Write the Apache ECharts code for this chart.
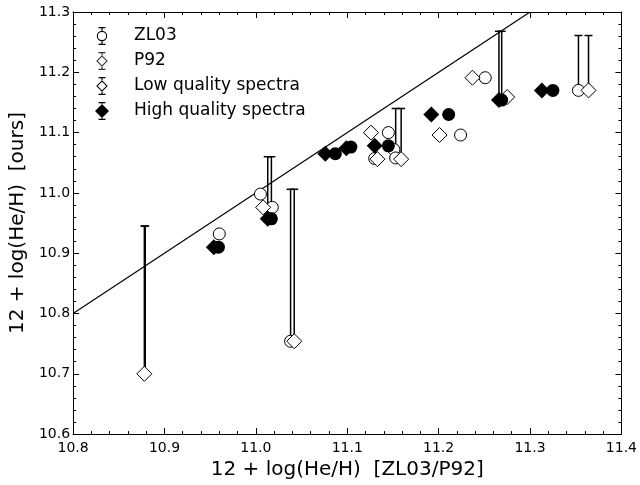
<!DOCTYPE html>
<html>
<head>
<meta charset="utf-8">
<script src="https://cdn.jsdelivr.net/npm/echarts@6/dist/echarts.min.js"></script>
<style>html,body{margin:0;padding:0;background:#fff}#c{width:640px;height:485px}</style>
</head>
<body>
<div id="c"></div>
<script>
// ---- data ----
const legendNames = ['ZL03', 'P92', 'Low quality spectra', 'High quality spectra'];
const xTicks = [10.8, 10.9, 11.0, 11.1, 11.2, 11.3, 11.4];
const yTicks = [10.6, 10.7, 10.8, 10.9, 11.0, 11.1, 11.2, 11.3];

const openCircleX = [10.960, 11.005, 11.018, 11.038, 11.145, 11.130, 11.151, 11.153, 11.224, 11.251, 11.353];
const openCircleY = [10.932, 10.998, 10.976, 10.754, 11.100, 11.057, 11.072, 11.058, 11.096, 11.191, 11.170];

const openDiamondX = [10.878, 11.008, 11.042, 11.126, 11.133, 11.159, 11.201, 11.237, 11.275, 11.364];
const openDiamondY = [10.700, 10.976, 10.754, 11.100, 11.056, 11.056, 11.096, 11.191, 11.159, 11.170];

const filledDiamondX = [10.954, 11.013, 11.076, 11.099, 11.130, 11.192, 11.266, 11.313];
const filledDiamondY = [10.910, 10.957, 11.065, 11.074, 11.078, 11.130, 11.154, 11.170];

const filledCircleX = [10.959, 11.017, 11.087, 11.104, 11.145, 11.211, 11.269, 11.325];
const filledCircleY = [10.910, 10.957, 11.065, 11.076, 11.078, 11.130, 11.154, 11.170];

const errX    = [10.878, 10.879, 11.013, 11.017, 11.038, 11.042, 11.153, 11.159, 11.266, 11.269, 11.353, 11.364];
const errLow  = [10.700, 10.700, 10.957, 10.957, 10.754, 10.754, 11.058, 11.056, 11.154, 11.154, 11.170, 11.170];
const errHigh = [10.945, 10.945, 11.060, 11.060, 11.006, 11.006, 11.140, 11.140, 11.268, 11.268, 11.261, 11.261];

const oneToOne = [10.8, 11.3];

// ---- build ----
const zip = (a, b) => a.map((v, i) => [v, b[i]]);
const errData = errX.map((x, i) => [x, errLow[i], errHigh[i]]);

const BOX = 'M0 0 M34 18 ';
const bars = (t, b) => 'M6.4 0.6 L7.6 0.6 L7.6 ' + t + ' L6.4 ' + t + ' Z ' +
  'M6.4 ' + b + ' L7.6 ' + b + ' L7.6 17.4 L6.4 17.4 Z ' +
  'M3.5 0 L10.5 0 L10.5 1.3 L3.5 1.3 Z M3.5 16.7 L10.5 16.7 L10.5 18 L3.5 18 Z ';
const iconCircle = 'path://' + BOX + bars(3.8, 14.2) +
  'M1.8 9 A5.2 5.2 0 1 1 12.2 9 A5.2 5.2 0 1 1 1.8 9 Z ' +
  'M2.9 9 A4.1 4.1 0 1 0 11.1 9 A4.1 4.1 0 1 0 2.9 9 Z';
const iconDiamond = 'path://' + BOX + bars(3.2, 14.8) +
  'M1.2 9 L7 3.2 L12.8 9 L7 14.8 Z M2.7 9 L7 13.3 L11.3 9 L7 4.7 Z';
const iconFilled = 'path://' + BOX + bars(2, 16) +
  'M0 9 L7 2 L14 9 L7 16 Z';

const fmt1 = v => Number(v).toFixed(1);
const tickCommon = {
  axisLine: { lineStyle: { color: '#000', width: 1 } },
  axisTick: { inside: true, length: 6, lineStyle: { color: '#000', width: 1 } },
  minorTick: { show: true, splitNumber: 5, length: 3, lineStyle: { color: '#000', width: 1 } },
  splitLine: { show: false }
};

const chart = echarts.init(document.getElementById('c'), null, { renderer: 'canvas' });
chart.setOption({
  animation: false,
  backgroundColor: '#fff',
  textStyle: { fontFamily: 'DejaVu Sans' },
  grid: { left: 70, right: 18, top: 12, bottom: 47 },
  legend: {
    left: 95, top: 27, orient: 'vertical', padding: 0,
    itemWidth: 34, itemHeight: 18, itemGap: 7,
    selectedMode: false,
    textStyle: { fontSize: 17, color: '#000', fontFamily: 'DejaVu Sans' },
    data: [
      { name: legendNames[0], icon: iconCircle, itemStyle: { color: '#000', borderWidth: 0 } },
      { name: legendNames[1], icon: iconDiamond, itemStyle: { color: '#000', borderWidth: 0 } },
      { name: legendNames[2], icon: iconDiamond, itemStyle: { color: '#000', borderWidth: 0 } },
      { name: legendNames[3], icon: iconFilled, itemStyle: { color: '#000', borderWidth: 0 } }
    ]
  },
  xAxis: [
    Object.assign({
      type: 'value', min: xTicks[0], max: xTicks[xTicks.length - 1], interval: 0.1, position: 'bottom',
      axisLabel: { formatter: fmt1, fontSize: 14, color: '#000', margin: 7, fontFamily: 'DejaVu Sans' },
      name: '12 + log(He/H)  [ZL03/P92]', nameLocation: 'middle', nameGap: 19,
      nameTextStyle: { fontSize: 20, color: '#000', fontFamily: 'DejaVu Sans' }
    }, tickCommon),
    Object.assign({
      type: 'value', min: xTicks[0], max: xTicks[xTicks.length - 1], interval: 0.1, position: 'top',
      axisLabel: { show: false }
    }, tickCommon)
  ],
  yAxis: [
    Object.assign({
      type: 'value', min: yTicks[0], max: yTicks[yTicks.length - 1], interval: 0.1, position: 'left',
      axisLabel: { formatter: fmt1, fontSize: 14, color: '#000', margin: 3, fontFamily: 'DejaVu Sans' },
      name: '12 + log(He/H)  [ours]', nameLocation: 'middle', nameGap: 39,
      nameTextStyle: { fontSize: 20, color: '#000', fontFamily: 'DejaVu Sans' }
    }, tickCommon),
    Object.assign({
      type: 'value', min: yTicks[0], max: yTicks[yTicks.length - 1], interval: 0.1, position: 'right',
      axisLabel: { show: false }
    }, tickCommon)
  ],
  series: [
    {
      type: 'line', name: '1:1', data: [[oneToOne[0], oneToOne[0]], [oneToOne[1], oneToOne[1]]],
      symbol: 'none', lineStyle: { color: '#000', width: 1.2 }, z: 1, silent: true
    },
    {
      type: 'custom', name: 'err', data: errData, z: 2,
      encode: { x: 0, y: [1, 2] },
      renderItem: function (params, api) {
        const x = api.value(0), lo = api.value(1), hi = api.value(2);
        const a = api.coord([x, lo]), b = api.coord([x, hi]);
        return {
          type: 'group', children: [
            { type: 'line', shape: { x1: a[0], y1: a[1], x2: b[0], y2: b[1] }, style: { stroke: '#000', lineWidth: 1.5 } },
            { type: 'line', shape: { x1: b[0] - 4, y1: b[1], x2: b[0] + 4, y2: b[1] }, style: { stroke: '#000', lineWidth: 1.5 } }
          ]
        };
      }
    },
    {
      type: 'scatter', name: legendNames[0], data: zip(openCircleX, openCircleY), z: 3,
      symbol: 'circle', symbolSize: 12,
      itemStyle: { color: '#fff', borderColor: '#000', borderWidth: 1, opacity: 1 }
    },
    {
      type: 'scatter', name: legendNames[2], data: zip(openDiamondX, openDiamondY), z: 3,
      symbol: 'diamond', symbolSize: 15,
      itemStyle: { color: '#fff', borderColor: '#000', borderWidth: 1, opacity: 1 }
    },
    {
      type: 'scatter', name: legendNames[1], data: [], z: 3,
      symbol: 'diamond', symbolSize: 15,
      itemStyle: { color: '#fff', borderColor: '#000', borderWidth: 1 }
    },
    {
      type: 'scatter', name: 'High quality ZL03', data: zip(filledCircleX, filledCircleY), z: 4,
      symbol: 'circle', symbolSize: 13,
      itemStyle: { color: '#000', borderColor: '#000', borderWidth: 0, opacity: 1 }
    },
    {
      type: 'scatter', name: legendNames[3], data: zip(filledDiamondX, filledDiamondY), z: 4,
      symbol: 'diamond', symbolSize: 16,
      itemStyle: { color: '#000', borderColor: '#000', borderWidth: 0, opacity: 1 }
    }
  ]
});
</script>
</body>
</html>
